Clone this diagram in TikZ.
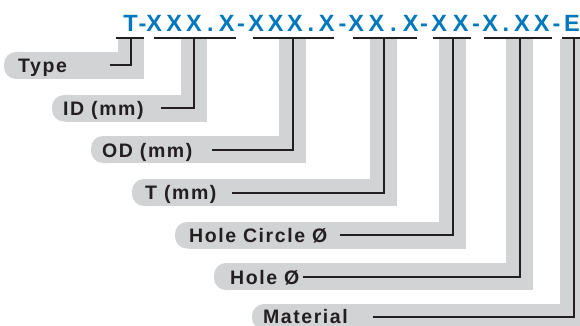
\documentclass[tikz,border=0pt]{standalone}
\usepackage{fontspec}
\setmainfont{Liberation Sans}
\definecolor{tblue}{RGB}{0,120,190}
\definecolor{bandgray}{RGB}{209,211,212}
\definecolor{inkdark}{RGB}{35,31,32}
\begin{document}
\begin{tikzpicture}[x=1pt,y=-1pt,
  codechar/.style={inner sep=0pt, anchor=base, text=tblue, font=\fontsize{23.5}{23.5}\selectfont\bfseries},
  lbl/.style={inner sep=0pt, anchor=base west, text=inkdark, font=\fontsize{19.5}{19.5}\selectfont\bfseries\addfontfeature{LetterSpace=8}},
  conn/.style={draw=inkdark, line width=2pt},
  bar/.style={draw=inkdark, line width=2pt}]
\useasboundingbox (0,0) rectangle (580,326);
\fill[white] (0,0) rectangle (580,326);
% gray bands: left/top/bottom/bandL/bandR
\foreach \l/\t/\b/\bl/\br in {4/52/79/118/144, 52/95/121.5/181/207, 91/136/163/279/306,
  132/179/206/370/397, 175/222/248.5/439/466, 214/263/290/506/533, 252/304/330/560/587}{
  \fill[bandgray] (\bl,39.5) rectangle (\br,\b);
  \fill[bandgray] (\l+14,\t) rectangle (\br,\b);
  \fill[bandgray, rounded corners=12pt] (\l,\t) rectangle (\l+30,\b);
}
% code characters
\foreach \c/\x [count=\i] in {T/130.5, -/142.5, X/154.2, X/174.1, X/194, ./210.4, X/226.8, -/241,
  X/256.2, X/275.6, X/295, ./310.9, X/326.8, -/342.5, X/356.2, X/376.5, ./393.5, X/410.8, -/424,
  X/439.2, X/460.8, -/476, X/490.2, ./506, X/522, X/541.8, -/556.5, E/572}{
  \node[codechar] (ch\i) at (\x,32) {\c};
}
% bars under groups
\foreach \a/\z [count=\i] in {116/144, 154/236, 253/334, 353/417, 433/471, 484/552, 562/590}{
  \coordinate (bl\i) at (\a,38.5);
  \coordinate (br\i) at (\z,38.5);
  \draw[bar] (bl\i) -- (br\i);
}
% labels
\node[lbl] (l1) at (18,72.5) {Type};
\node[lbl] (l2) at (63,115) {ID (mm)};
\node[lbl] (l3) at (102,157) {OD (mm)};
\node[lbl] (l4) at (145,199.5) {T (mm)};
\node[lbl] (l5) at (189,242) {Hole Circle Ø};
\node[lbl] (l6) at (230,284) {Hole Ø};
\node[lbl] (l7) at (263,323.5) {Material};
% connectors: start / line y / vertical x
\foreach \s/\y/\v [count=\i] in {110/65.5/131, 161/108/194, 212/150/292.5, 232/192.5/383.5,
  340/235/452.5, 303/277/519.5, 373/316.5/573.5}{
  \coordinate (s\i) at (\s,\y);
  \coordinate (t\i) at (\v,38.5);
  \draw[conn] (s\i) -| (t\i);
}
\end{tikzpicture}
\end{document}
